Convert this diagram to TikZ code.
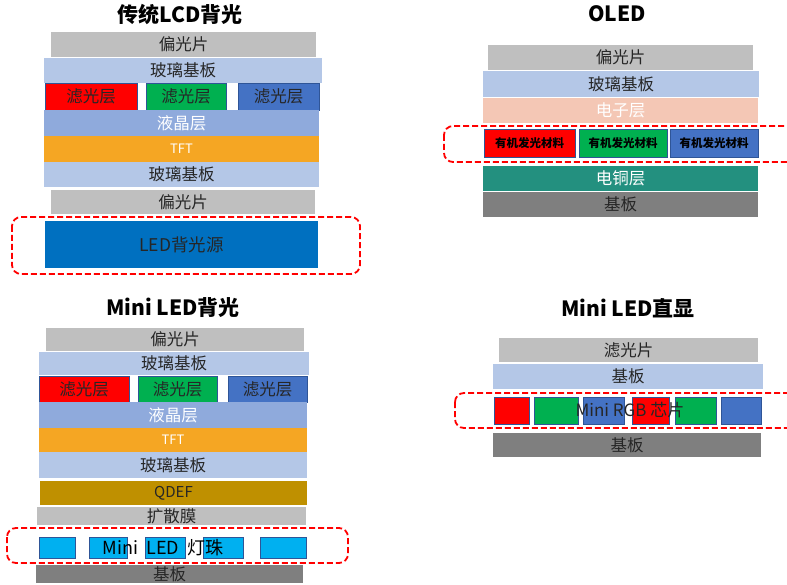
\documentclass[tikz,border=0pt]{standalone}
\usepackage{fontspec}
\usepackage{xcolor}
\setmainfont{Noto Sans CJK SC}
\definecolor{polgray}{HTML}{BFBFBF}
\definecolor{glassblue}{HTML}{B4C7E7}
\definecolor{cfred}{HTML}{FF0000}
\definecolor{cfgreen}{HTML}{00B050}
\definecolor{cfblue}{HTML}{4472C4}
\definecolor{lcblue}{HTML}{8FAADC}
\definecolor{tftorange}{HTML}{F5A623}
\definecolor{ledblue}{HTML}{0070C0}
\definecolor{etlpeach}{HTML}{F4C7B5}
\definecolor{copperteal}{HTML}{23907F}
\definecolor{subgray}{HTML}{7F7F7F}
\definecolor{qdefgold}{HTML}{BF9000}
\definecolor{beadcyan}{HTML}{00B0F0}
\definecolor{edgeblue}{HTML}{2F5597}
\definecolor{txtdark}{HTML}{262626}

\begin{document}
\begin{tikzpicture}[x=1pt,y=-1pt,
    layer/.style={inner sep=0pt,outer sep=0pt,text=txtdark,
      font=\fontsize{16.5}{16.5}\selectfont},
    cell/.style={layer,draw=edgeblue,line width=0.6pt},
    heading/.style={font=\fontsize{21}{21}\selectfont\bfseries,text=black},
    glow/.style={draw=red,line width=1.8pt,dash pattern=on 6pt off 3pt,rounded corners=9pt}]
                \clip (0,0) rectangle (787,585);

                % Traditional LCD backlight
                \node[heading] (lcdtitle) at (180,15) {传统LCD背光};
                \node[layer,fill=polgray,minimum width=265,minimum height=25] (lcdpola) at (183.5,44.5) {偏光片};
                \node[layer,fill=glassblue,minimum width=278,minimum height=25] (lcdglassa) at (183,70.5) {玻璃基板};
                \node[cell,fill=cfred,minimum width=92,minimum height=27] (lcdcfr) at (91,96.5) {滤光层};
                \node[cell,fill=cfgreen,minimum width=80,minimum height=27] (lcdcfg) at (186,96.5) {滤光层};
                \node[cell,fill=cfblue,minimum width=81,minimum height=27] (lcdcfb) at (278.5,96.5) {滤光层};
                \node[layer,fill=lcblue,text=white,minimum width=275,minimum height=26] (lcdlc) at (181.5,123) {液晶层};
                \node[layer,fill=tftorange,text=white,font=\fontsize{13}{13}\selectfont,minimum width=275,minimum height=26] (lcdtft) at (181.5,149) {TFT};
                \node[layer,fill=glassblue,minimum width=275,minimum height=25] (lcdglassb) at (181.5,174.5) {玻璃基板};
                \node[layer,fill=polgray,minimum width=264,minimum height=24] (lcdpolb) at (183,202) {偏光片};
                \node[layer,fill=ledblue,font=\fontsize{17.5}{17.5}\selectfont,minimum width=273,minimum height=47] (lcdled) at (181.5,244.5) {LED背光源};
                \draw[glow] (12,217) rectangle (360,274);

                % OLED
                \node[heading] (oledtitle) at (617,14) {OLED};
                \node[layer,fill=polgray,minimum width=265,minimum height=25] (oledpol) at (620.5,57.5) {偏光片};
                \node[layer,fill=glassblue,minimum width=276,minimum height=26] (oledglass) at (621,84) {玻璃基板};
                \node[layer,fill=etlpeach,text=white,minimum width=275,minimum height=25] (oledetl) at (620.5,110.5) {电子层};
                \node[cell,fill=cfred,text=black,font=\fontsize{11.5}{11.5}\selectfont\bfseries,minimum width=91,minimum height=28] (oledemr) at (529.5,143) {有机发光材料};
                \node[cell,fill=cfgreen,text=black,font=\fontsize{11.5}{11.5}\selectfont\bfseries,minimum width=88,minimum height=28] (oledemg) at (623,143) {有机发光材料};
                \node[cell,fill=cfblue,text=black,font=\fontsize{11.5}{11.5}\selectfont\bfseries,minimum width=88,minimum height=28] (oledemb) at (714,143) {有机发光材料};
                \draw[glow] (444,126) rectangle (800,162);
                \node[layer,fill=copperteal,text=white,minimum width=275,minimum height=25] (oledcu) at (620.5,178.5) {电铜层};
                \node[layer,fill=subgray,minimum width=275,minimum height=25] (oledsub) at (620.5,204.5) {基板};

                % Mini LED backlight
                \node[heading] (mbltitle) at (173,308) {Mini LED背光};
                \node[layer,fill=polgray,minimum width=258,minimum height=23] (mblpol) at (175,339.5) {偏光片};
                \node[layer,fill=glassblue,minimum width=270,minimum height=23] (mblglassa) at (174,363.5) {玻璃基板};
                \node[cell,fill=cfred,minimum width=90,minimum height=26] (mblcfr) at (84,389) {滤光层};
                \node[cell,fill=cfgreen,minimum width=79,minimum height=26] (mblcfg) at (177.5,389) {滤光层};
                \node[cell,fill=cfblue,minimum width=79,minimum height=26] (mblcfb) at (267.5,389) {滤光层};
                \node[layer,fill=lcblue,text=white,minimum width=268,minimum height=26] (mbllc) at (173,415) {液晶层};
                \node[layer,fill=tftorange,text=white,font=\fontsize{13}{13}\selectfont,minimum width=268,minimum height=24] (mbltft) at (173,440) {TFT};
                \node[layer,fill=glassblue,minimum width=268,minimum height=26] (mblglassb) at (173,465) {玻璃基板};
                \node[layer,fill=qdefgold,font=\fontsize{15}{15}\selectfont,minimum width=267,minimum height=24] (mblqdef) at (173.5,493) {QDEF};
                \node[layer,fill=polgray,minimum width=269,minimum height=18] (mbldiff) at (171.5,516) {扩散膜};
                \draw[glow] (7,528) rectangle (348,563);
                \foreach \bx/\bw [count=\i] in {57/36,108/38,165/40,223/40,283/46}
                  \node[cell,fill=beadcyan,minimum width=\bw,minimum height=21] (mblbead\i) at (\bx,547.5) {};
                \node[layer,text=black,font=\fontsize{18}{18}\selectfont] (mblbeadlabel) at (163,548) {Mini\ \ LED\ \ 灯珠};
                \node[layer,fill=subgray,minimum width=267,minimum height=18] (mblsub) at (169.5,574) {基板};

                % Mini LED direct view
                \node[heading] (mdvtitle) at (628,308) {Mini LED直显};
                \node[layer,fill=polgray,minimum width=259,minimum height=24] (mdvcf) at (628.5,350) {滤光片};
                \node[layer,fill=glassblue,minimum width=270,minimum height=25] (mdvsuba) at (628,376.5) {基板};
                \foreach \cx/\cw/\cc [count=\i] in {511.5/35/cfred,556/44/cfgreen,603.5/41/cfblue,650.5/37/cfred,695.5/41/cfgreen,741/40/cfblue}
                  \node[cell,fill=\cc,minimum width=\cw,minimum height=27] (mdvchip\i) at (\cx,410.5) {};
                \node[layer,text=txtdark,font=\fontsize{17}{17}\selectfont] (mdvchiplabel) at (630,410) {Mini RGB 芯片};
                \draw[glow] (455,393) rectangle (800,428);
                \node[layer,fill=subgray,minimum width=268,minimum height=24] (mdvsubb) at (627,445) {基板};
            \end{tikzpicture}
\end{document}
